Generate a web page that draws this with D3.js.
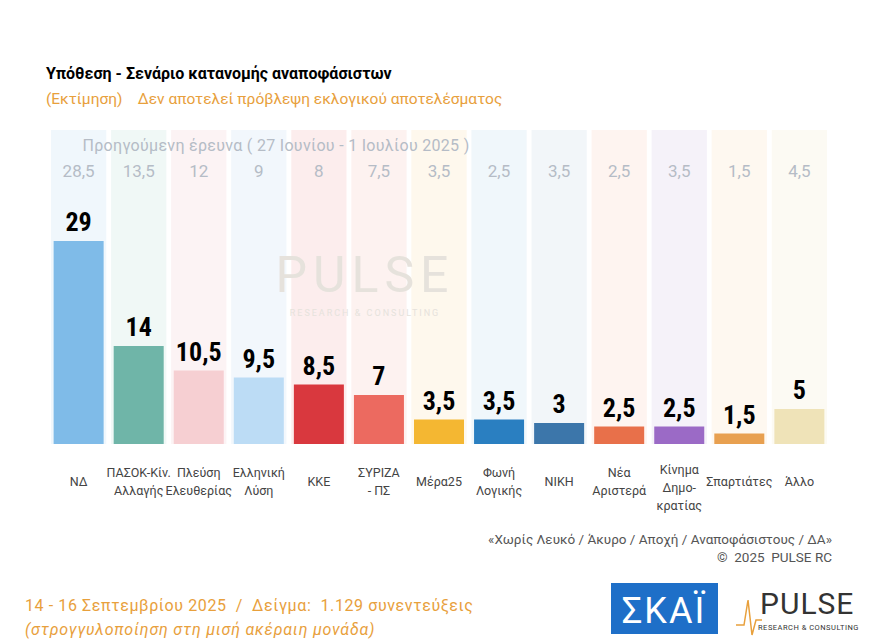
<!DOCTYPE html>
<html><head><meta charset="utf-8">
<script src="https://cdn.jsdelivr.net/npm/d3@7"></script>
<style>body{margin:0;background:#fff;font-family:Roboto,"Noto Sans",sans-serif}</style>
</head><body><svg id="c" width="875" height="644"></svg>
<script>
const parties = ["ΝΔ","ΠΑΣΟΚ-Κίν.|Αλλαγής","Πλεύση|Ελευθερίας","Ελληνική|Λύση","ΚΚΕ","ΣΥΡΙΖΑ|- ΠΣ","Μέρα25","Φωνή|Λογικής","ΝΙΚΗ","Νέα|Αριστερά","Κίνημα|Δημο-|κρατίας","Σπαρτιάτες","Άλλο"];
const current = [29,14,10.5,9.5,8.5,7,3.5,3.5,3,2.5,2.5,1.5,5];
const previous = [28.5,13.5,12,9,8,7.5,3.5,2.5,3.5,2.5,3.5,1.5,4.5];
const barColors = ["#7fbbe8","#6fb5a8","#f6cfd2","#bcdcf5","#d9383e","#ec6a60","#f4b732","#2a7fc1","#3c76aa","#e8704a","#9b6ac6","#e8a050","#efe3b8"];
const bgColors = ["#eaf3fb","#eaf5f2","#fbeef0","#ecf4fb","#fbe6e6","#fcecea","#fdf5e6","#eaf3fa","#edf2f7","#fdefe9","#f1ecf7","#fdf5ea","#fbf8ee"];

const svg = d3.select("#c");
const x = d3.scaleBand().domain(d3.range(parties.length)).range([51,827]).paddingInner(0.08);
const y = d3.scaleLinear().domain([0,29]).range([444,241]);
const fmt = v => String(v).replace(".",",");

svg.selectAll("rect.bg").data(parties).join("rect")
  .attr("x",(d,i)=>x(i)).attr("y",130).attr("width",x.bandwidth()).attr("height",314)
  .attr("fill",(d,i)=>bgColors[i]).attr("opacity",0.7);

svg.append("text").attr("x",365).attr("y",292).attr("text-anchor","middle").attr("font-size",50)
  .attr("fill","#e6e2dc").attr("letter-spacing",6).text("PULSE");
svg.append("text").attr("x",365).attr("y",316).attr("text-anchor","middle").attr("font-size",9)
  .attr("fill","#e6e2dc").attr("letter-spacing",2).text("RESEARCH & CONSULTING");

const bw = 50;
svg.selectAll("rect.bar").data(current).join("rect")
  .attr("x",(d,i)=>x(i)+x.bandwidth()/2-bw/2).attr("y",d=>y(d))
  .attr("width",bw).attr("height",d=>444-y(d)).attr("fill",(d,i)=>barColors[i]);

svg.selectAll("text.val").data(current).join("text")
  .attr("x",(d,i)=>x(i)+x.bandwidth()/2).attr("y",d=>y(d)-10)
  .attr("text-anchor","middle").attr("font-size",26).attr("font-weight","bold")
  .attr("font-family","'Roboto Condensed',Roboto,sans-serif").attr("fill","#000").text(fmt);

svg.selectAll("text.prev").data(previous).join("text")
  .attr("x",(d,i)=>x(i)+x.bandwidth()/2).attr("y",177)
  .attr("text-anchor","middle").attr("font-size",17).attr("fill","#b5bcc6").text(fmt);

svg.append("text").attr("x",276).attr("y",151).attr("text-anchor","middle").attr("font-size",16)
  .attr("letter-spacing",0.3).attr("fill","#b5bcc6").text("Προηγούμενη έρευνα ( 27 Ιουνίου - 1 Ιουλίου 2025 )");

parties.forEach((p,i)=>{
  const lines = p.split("|");
  const cx = x(i)+x.bandwidth()/2;
  const y0 = lines.length===1?486:(lines.length===2?477:474);
  const t = svg.append("text").attr("text-anchor","middle").attr("font-size",12.5).attr("fill","#444");
  lines.forEach((l,j)=>t.append("tspan").attr("x",cx).attr("y",y0+j*18).text(l));
});

svg.append("text").attr("x",46).attr("y",79).attr("font-size",16).attr("font-weight","bold").attr("fill","#000")
  .text("Υπόθεση - Σενάριο κατανομής αναποφάσιστων");
svg.append("text").attr("x",46).attr("y",104).attr("font-size",15.5).attr("fill","#e8a03c").attr("xml:space","preserve")
  .text("(Εκτίμηση)    Δεν αποτελεί πρόβλεψη εκλογικού αποτελέσματος");

svg.append("text").attr("x",832).attr("y",544).attr("text-anchor","end").attr("font-size",13.5).attr("fill","#555")
  .attr("xml:space","preserve").text("«Χωρίς Λευκό / Άκυρο / Αποχή / Αναποφάσιστους / ΔΑ»");
svg.append("text").attr("x",832).attr("y",562).attr("text-anchor","end").attr("font-size",13.5).attr("fill","#555")
  .attr("xml:space","preserve").text("©  2025  PULSE RC");

svg.append("text").attr("x",25).attr("y",611).attr("font-size",16).attr("letter-spacing",0.6).attr("fill","#e8a03c")
  .attr("xml:space","preserve").text("14 - 16 Σεπτεμβρίου 2025  /  Δείγμα:  1.129 συνεντεύξεις");
svg.append("text").attr("x",25).attr("y",635).attr("font-size",16).attr("letter-spacing",0.8).attr("font-style","italic").attr("fill","#e8a03c")
  .text("(στρογγυλοποίηση στη μισή ακέραιη μονάδα)");

svg.append("rect").attr("x",611).attr("y",583).attr("width",107).attr("height",51).attr("fill","#1e6fc8");
svg.append("text").attr("x",664).attr("y",623).attr("text-anchor","middle").attr("font-size",36).attr("fill","#fff")
  .attr("letter-spacing",2).text("ΣΚΑΪ");
svg.append("text").attr("x",760).attr("y",614).attr("font-size",30).attr("fill","#333").attr("letter-spacing",1).text("PULSE");
svg.append("text").attr("x",758).attr("y",630).attr("font-size",7.5).attr("fill","#333").attr("letter-spacing",0.5).text("RESEARCH & CONSULTING");
svg.append("path").attr("d","M736,625 L744,625 L748,600 L752,635 L756,620 L762,620").attr("fill","none").attr("stroke","#e8a03c").attr("stroke-width",1.5);
</script></body></html>
